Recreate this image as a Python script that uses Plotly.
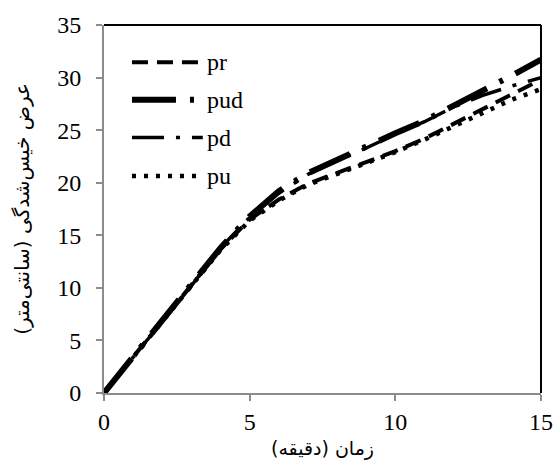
import plotly.graph_objects as go

time_min = [0, 1, 2, 3, 4, 5, 6, 7, 8, 9, 10, 11, 12, 13, 14, 15]
pr = [0, 3.4, 6.8, 10.2, 13.7, 16.5, 18.4, 19.9, 20.9, 21.9, 23.0, 24.2, 25.6, 27.1, 28.5, 29.8]
pud = [0, 3.4, 6.8, 10.2, 13.8, 16.8, 19.2, 20.9, 22.2, 23.4, 24.7, 25.9, 27.3, 28.8, 30.2, 31.7]
pd_ = [0, 3.4, 6.8, 10.2, 13.8, 16.7, 19.0, 20.8, 22.1, 23.3, 24.6, 25.8, 27.2, 28.3, 29.2, 30.0]
pu = [0, 3.4, 6.8, 10.2, 13.6, 16.4, 18.3, 19.8, 20.8, 21.8, 22.9, 24.1, 25.4, 26.7, 27.9, 28.9]

names = ["pr", "pud", "pd", "pu"]
series = [pr, pud, pd_, pu]
widths = [4, 6, 3.5, 4.5]
dashes = ["16px,9px", "44px,14px,4px,14px", "32px,12px,4px,12px", "4px,8px"]

fig = go.Figure()
for n, s, w, d in zip(names, series, widths, dashes):
    fig.add_trace(go.Scatter(x=time_min, y=s, mode="lines", name=n,
                             line=dict(color="black", width=w, dash=d),
                             showlegend=False))

# custom legend (paper coordinates)
leg_y = [0.899, 0.797, 0.694, 0.590]
shapes = []
annotations = []
for n, w, d, yy in zip(names, widths, dashes, leg_y):
    shapes.append(dict(type="line", xref="paper", yref="paper", x0=0.064, x1=0.226,
                       y0=yy, y1=yy, line=dict(color="black", width=w, dash=d)))
    annotations.append(dict(xref="paper", yref="paper", x=0.232, y=yy, text=n,
                            showarrow=False, xanchor="left", yanchor="middle",
                            font=dict(family="Liberation Serif", size=24, color="black")))

# black top/right frame
shapes.append(dict(type="line", xref="paper", yref="paper", x0=0, x1=1, y0=1, y1=1,
                   line=dict(color="black", width=2)))
shapes.append(dict(type="line", xref="paper", yref="paper", x0=1, x1=1, y0=0, y1=1,
                   line=dict(color="black", width=2)))

axis_font = dict(family="Liberation Serif", size=24, color="black")
fig.update_layout(
    width=557, height=466,
    margin=dict(l=104, r=16, t=25, b=73, autoexpand=False),
    paper_bgcolor="white", plot_bgcolor="white",
    shapes=shapes, annotations=annotations,
    xaxis=dict(range=[0, 15], tickvals=[0, 5, 10, 15], showgrid=False, zeroline=False,
               showline=True, linecolor="#8c8c8c", linewidth=2, automargin=False,
               ticks="outside", tickcolor="#8c8c8c", ticklen=6, tickwidth=2,
               ticklabelstandoff=0, ticklabeloverflow="allow",
               tickfont=axis_font,
               title=dict(text="زمان (دقیقه)", standoff=8,
                          font=dict(family="DejaVu Sans", size=19, color="black"))),
    yaxis=dict(range=[0, 35], tickvals=[0, 5, 10, 15, 20, 25, 30, 35], showgrid=False,
               zeroline=False, showline=True, linecolor="#8c8c8c", linewidth=2,
               automargin=False, ticklabeloverflow="allow",
               ticks="outside", tickcolor="#8c8c8c", ticklen=6, tickwidth=2,
               ticklabelstandoff=10,
               tickfont=axis_font,
               title=dict(text="عرض خیس‌شدگی (سانتی‌متر)", standoff=22,
                          font=dict(family="DejaVu Sans", size=20, color="black"))),
)

fig.write_html("out.html", config={"displayModeBar": False},
               post_script="document.body.style.margin='0';document.body.style.overflow='hidden';")
